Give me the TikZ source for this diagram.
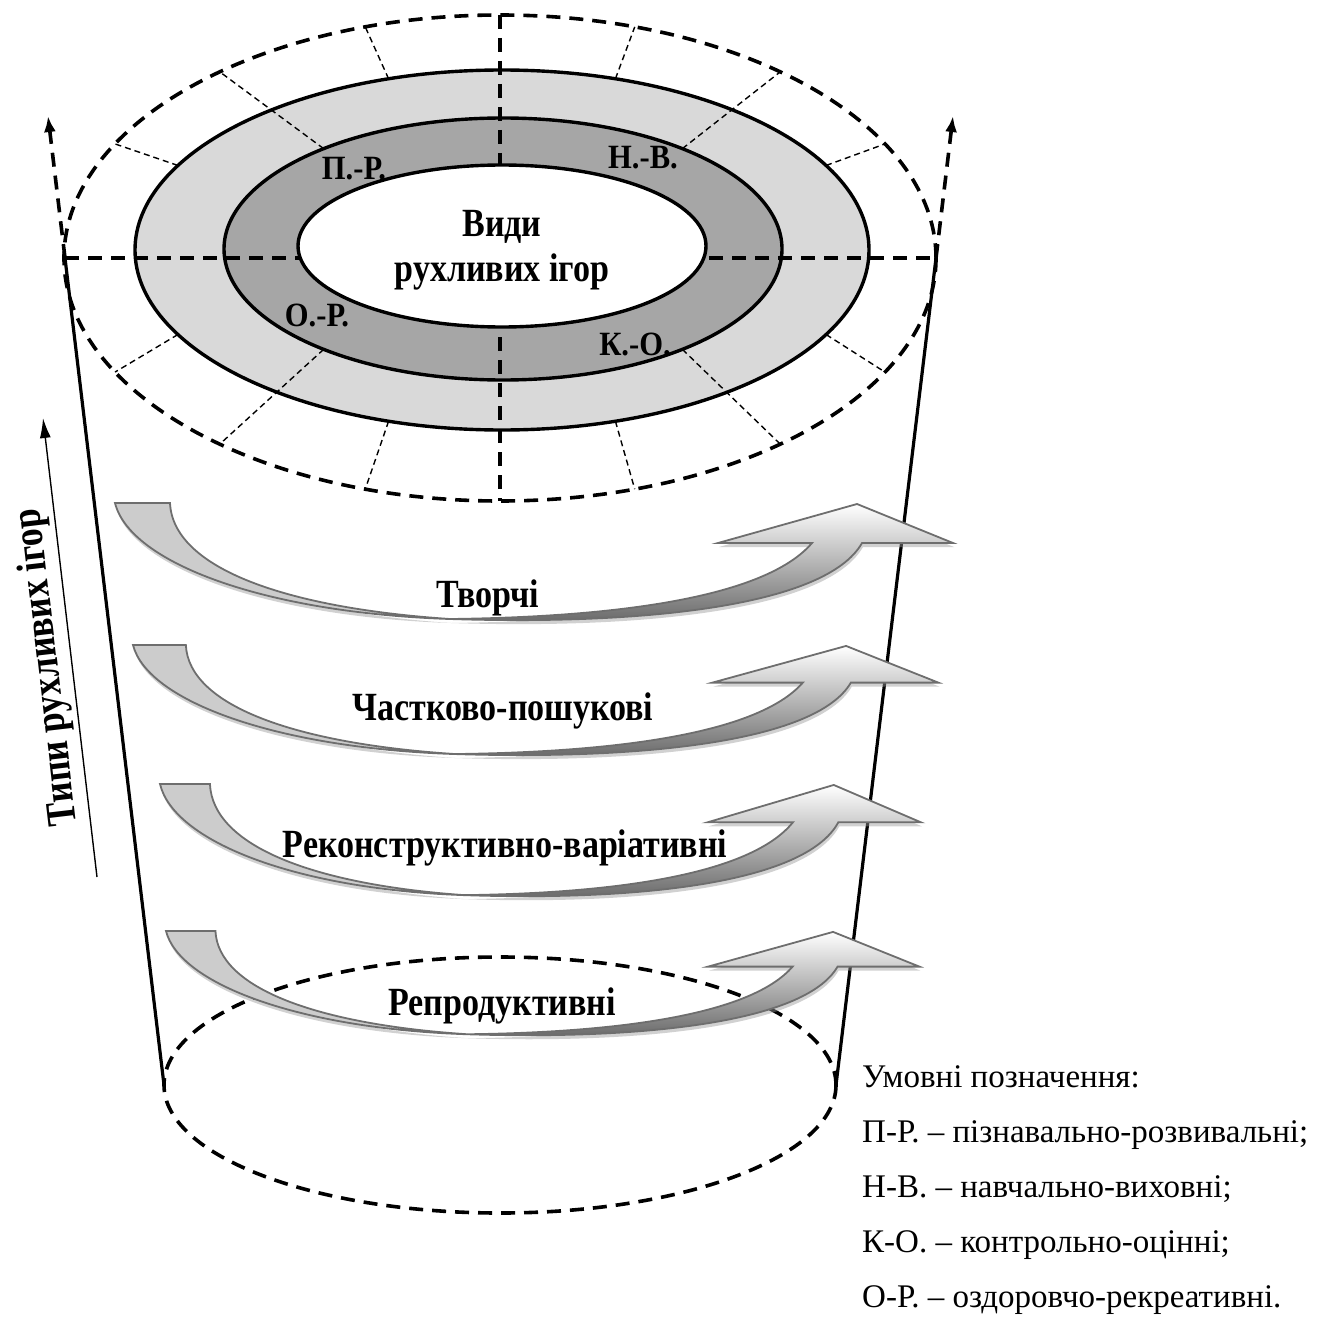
\documentclass[tikz,border=0pt]{standalone}
\usepackage{fontspec}
\setmainfont{Liberation Serif}
\newfontfamily\narrowserif[FakeStretch=0.85]{Liberation Serif}
\newfontfamily\ringserif[FakeStretch=0.9]{Liberation Serif}
\usetikzlibrary{arrows.meta,shadows}
\definecolor{ringlight}{HTML}{D9D9D9}
\definecolor{ringdark}{HTML}{A6A6A6}
\definecolor{bandgray}{HTML}{CCCCCC}
\definecolor{bandedge}{HTML}{6E6E6E}
\tikzset{
  bigdash/.style={line width=3.6pt, dash pattern=on 14pt off 9pt},
  smalldash/.style={line width=1.4pt, dash pattern=on 6pt off 4pt},
  ring/.style={line width=3.4pt},
  cone/.style={line width=3.2pt},
  bandshadow/.style={drop shadow={shadow xshift=1pt, shadow yshift=-4pt, fill=black!40, opacity=.45}},
  bandback/.style={fill=bandgray, draw=bandedge, line width=1.8pt, bandshadow},
  bandfront/.style={top color=white, bottom color=black!60, draw=bandedge, line width=1.8pt, bandshadow},
  kindlabel/.style={font=\narrowserif\fontsize{40}{45}\selectfont\bfseries, inner sep=0pt, anchor=base},
  ringlabel/.style={font=\ringserif\fontsize{34}{38}\selectfont\bfseries, inner sep=0pt},
  legendtext/.style={font=\fontsize{33}{40}\selectfont, inner sep=0pt, anchor=base west}
}
\newcommand{\kindarrow}[4]{%
  \begin{scope}[shift={(#1,#2)}, xscale=#3, yscale=#4]
    \path[bandback] (0,0) -- (55,0) .. controls (58,65) and (170,105) .. (335,116)
      .. controls (150,110) and (15,60) .. (0,0) -- cycle;
    \path[bandfront] (335,116) .. controls (520,122) and (710,105) .. (747,40)
      -- (838,40) -- (742,1) -- (603,40) -- (697,40)
      .. controls (650,95) and (500,114) .. (335,116) -- cycle;
  \end{scope}}

\begin{document}
\begin{tikzpicture}[x=1pt, y=-1pt]
    \useasboundingbox (0,0) rectangle (1321,1316);
    \coordinate (lefttop) at (65,258);
    \coordinate (righttop) at (936,258);
    \coordinate (leftbot) at (164,1085);
    \coordinate (rightbot) at (836,1085);
    \coordinate (lefttip) at (48,116);
    \coordinate (righttip) at (953,116);
    \coordinate (axistop) at (500,15);
    \coordinate (axisbot) at (500,501);
    \coordinate (typesbot) at (97,877);
    \coordinate (typestop) at (43,418);

    \draw[bigdash] (500,258) ellipse [x radius=436, y radius=243];
    \draw[bigdash] (500,1085) ellipse [x radius=336, y radius=128];
    \draw[cone] (lefttop) -- (leftbot);
    \draw[cone] (righttop) -- (rightbot);
    \draw[bigdash, -{Latex[length=16pt, width=12pt]}] (lefttop) -- (lefttip);
    \draw[bigdash, -{Latex[length=16pt, width=12pt]}] (righttop) -- (righttip);

    \filldraw[ring, fill=ringlight] (502,250) ellipse [x radius=367, y radius=180];
    \filldraw[ring, fill=ringdark] (503,249) ellipse [x radius=279, y radius=131];
    \foreach \a in {28,72,108,152,208,252,288,332}
        \draw[smalldash] ({502+367*cos(\a)},{250-180*sin(\a)}) -- ({500+436*cos(\a)},{258-243*sin(\a)});
    \foreach \a in {50,130,230,310}
        \draw[smalldash] ({503+279*cos(\a)},{249-131*sin(\a)}) -- ({500+436*cos(\a)},{258-243*sin(\a)});
    \draw[bigdash] (lefttop) -- (righttop);
    \draw[bigdash] (axistop) -- (axisbot);
    \filldraw[ring, fill=white] (502,246) ellipse [x radius=204, y radius=81];

    \node[kindlabel, anchor=center, align=center] (vydy) at (502,250) {Види\\рухливих ігор};
    \node[ringlabel] (pr) at (354,169) {П.-Р.};
    \node[ringlabel] (nv) at (643,158) {Н.-В.};
    \node[ringlabel] (or) at (317,315) {О.-Р.};
    \node[ringlabel] (ko) at (635,344) {К.-О.};

    \kindarrow{115}{503}{1}{1}
    \kindarrow{133}{645}{.961}{.94}
    \kindarrow{160}{784}{.908}{.958}
    \kindarrow{166}{931}{.899}{.89}
    \node[kindlabel] (tvorchi) at (488,607) {Творчі};
    \node[kindlabel] (chastkovi) at (503,720) {Частково-пошукові};
    \node[kindlabel] (rekon) at (505,857) {Реконструктивно-варіативні};
    \node[kindlabel] (repro) at (502,1015) {Репродуктивні};

    \draw[line width=1.4pt, -{Latex[length=20pt, width=11pt]}] (typesbot) -- (typestop);
    \node[font=\narrowserif\fontsize{42}{46}\selectfont\bfseries, inner sep=0pt, rotate=96.7] (typestitle) at (48,667) {Типи рухливих ігор};

    \foreach \txt [count=\i from 0] in {Умовні позначення:, П-Р. – пізнавально-розвивальні;,
        Н-В. – навчально-виховні;, К-О. – контрольно-оцінні;, О-Р. – оздоровчо-рекреативні.}
        \node[legendtext] (legend\i) at (862,{1087+55*\i}) {\txt};
\end{tikzpicture}
\end{document}
